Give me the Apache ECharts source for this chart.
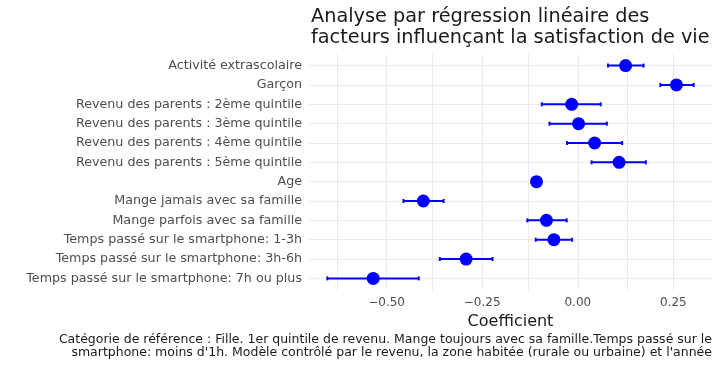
<!DOCTYPE html>
<html><head><meta charset="utf-8">
<script src="https://cdn.jsdelivr.net/npm/echarts@6/dist/echarts.min.js"></script>
<style>html,body{margin:0;padding:0;background:#fff}#c{width:720px;height:371px}</style>
</head><body><div id="c"></div>
<script>
const categories = [
  "Activité extrascolaire",
  "Garçon",
  "Revenu des parents : 2ème quintile",
  "Revenu des parents : 3ème quintile",
  "Revenu des parents : 4ème quintile",
  "Revenu des parents : 5ème quintile",
  "Age",
  "Mange jamais avec sa famille",
  "Mange parfois avec sa famille",
  "Temps passé sur le smartphone: 1-3h",
  "Temps passé sur le smartphone: 3h-6h",
  "Temps passé sur le smartphone: 7h ou plus"
];
const coef  = [0.125, 0.258, -0.016, 0.002, 0.044, 0.108, -0.108, -0.404, -0.082, -0.0625, -0.292, -0.535];
const lower = [0.079, 0.216, -0.094, -0.074, -0.028, 0.036, -0.116, -0.456, -0.132, -0.110, -0.361, -0.655];
const upper = [0.172, 0.303, 0.060, 0.076, 0.116, 0.178, -0.100, -0.351, -0.029, -0.015, -0.223, -0.416];
const xTicks = [-0.5, -0.25, 0, 0.25];
const xGrid = [-0.625, -0.5, -0.375, -0.25, -0.125, 0, 0.125, 0.25];
const captionLines = [
  "Catégorie de référence : Fille. 1er quintile de revenu. Mange toujours avec sa famille.Temps passé sur le",
  "smartphone: moins d'1h. Modèle contrôlé par le revenu, la zone habitée (rurale ou urbaine) et l'année"
];

const FONT = "'DejaVu Sans', sans-serif";
const chart = echarts.init(document.getElementById('c'), null, {renderer: 'canvas'});
const rows = categories.map((c, i) => i + 1);
const pts = categories.map((c, i) => [coef[i], i + 1]);
const bars = categories.map((c, i) => [lower[i], upper[i], i + 1]);
const gridMarks = xGrid.map(v => ({xAxis: v})).concat(rows.map(r => ({yAxis: r})));

chart.setOption({
  animation: false,
  backgroundColor: '#fff',
  title: {
    text: 'Analyse par régression linéaire des\nfacteurs influençant la satisfaction de vie',
    left: 311, top: 7, padding: 0,
    textStyle: {fontFamily: FONT, fontSize: 19.3, fontWeight: 'normal', color: '#1a1a1a', lineHeight: 20.5}
  },
  graphic: captionLines.map((t, i) => ({
    type: 'text', x: 712, y: 340 + i * 13,
    style: {text: t, align: 'right', verticalAlign: 'middle', fontFamily: FONT, fontSize: 12.5, fill: '#1a1a1a'}
  })),
  grid: {left: 309, right: 8, top: 54, bottom: 81, containLabel: false},
  xAxis: {
    type: 'value', min: -0.703, max: 0.351,
    axisLine: {show: false}, axisTick: {show: false}, splitLine: {show: false},
    axisLabel: {customValues: xTicks, formatter: v => (v < 0 ? '\u2212' : '') + Math.abs(v).toFixed(2),
      color: '#4d4d4d', fontFamily: FONT, fontSize: 12, margin: 7},
    name: 'Coefficient', nameLocation: 'middle', nameGap: 17,
    nameTextStyle: {fontFamily: FONT, fontSize: 16, color: '#1a1a1a'}
  },
  yAxis: {
    type: 'value', min: 0.4, max: 12.6, inverse: true,
    axisLine: {show: false}, axisTick: {show: false}, splitLine: {show: false},
    axisLabel: {customValues: rows, formatter: v => categories[Math.round(v) - 1],
      color: '#4d4d4d', fontFamily: FONT, fontSize: 12.7, margin: 7}
  },
  series: [
    {
      type: 'scatter', data: [], silent: true, z: 1,
      markLine: {silent: true, symbol: 'none', animation: false, label: {show: false},
        lineStyle: {color: '#ebebeb', width: 1, type: 'solid'}, data: gridMarks}
    },
    {
      type: 'custom', z: 10, data: bars, silent: true,
      renderItem: (params, api) => {
        const a = api.coord([api.value(0), api.value(2)]);
        const b = api.coord([api.value(1), api.value(2)]);
        const h = 2;
        const st = () => ({stroke: '#0000ff', lineWidth: 2, opacity: 1, fill: null});
        return {type: 'group', children: [
          {type: 'line', z2: 10, shape: {x1: a[0], y1: a[1], x2: b[0], y2: b[1]}, style: st()},
          {type: 'line', z2: 10, shape: {x1: a[0], y1: a[1] - h, x2: a[0], y2: a[1] + h}, style: st()},
          {type: 'line', z2: 10, shape: {x1: b[0], y1: b[1] - h, x2: b[0], y2: b[1] + h}, style: st()}
        ]};
      }
    },
    {
      type: 'scatter', z: 11, data: pts, symbol: 'circle', symbolSize: 13,
      itemStyle: {color: '#0000ff', opacity: 1}
    }
  ]
});
</script></body></html>
